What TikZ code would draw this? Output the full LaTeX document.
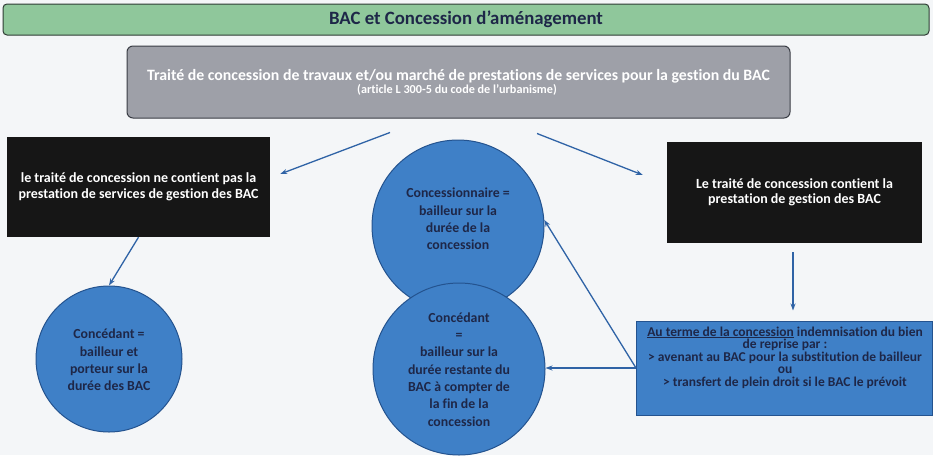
\documentclass[tikz,border=0pt]{standalone}
\usepackage{fontspec}
\setmainfont{Carlito}[Ligatures=NoCommon]
\usetikzlibrary{arrows.meta,calc}

\definecolor{paper}{HTML}{F4F6F8}
\definecolor{bargreen}{HTML}{8FC79B}
\definecolor{barline}{HTML}{2E3B34}
\definecolor{greyfill}{HTML}{9EA0A8}
\definecolor{greyline}{HTML}{3A3D45}
\definecolor{darkbox}{HTML}{161616}
\definecolor{bubble}{HTML}{3F80C7}
\definecolor{bubbleline}{HTML}{24538F}
\definecolor{navytext}{HTML}{1E2748}
\definecolor{arrowblue}{HTML}{2F63A6}

\tikzset{
  titlebar/.style={draw=barline, line width=1pt, fill=bargreen, rounded corners=4pt,
    minimum width=926pt, minimum height=31pt, inner sep=0pt,
    font=\fontsize{18.8}{20}\selectfont\bfseries, text=navytext},
  greybox/.style={draw=greyline, line width=1pt, fill=greyfill, rounded corners=6pt,
    minimum width=663pt, minimum height=72pt, inner sep=0pt},
  greytext/.style={inner sep=0pt, text=white},
  darkcard/.style={fill=darkbox, inner sep=0pt, align=center, text=white,
    font=\fontsize{14}{15.5}\selectfont\bfseries},
  bubblenode/.style={circle, draw=bubbleline, line width=1pt, fill=bubble, inner sep=0pt},
  bubbletext/.style={align=center, text=navytext, font=\fontsize{13.8}{17.3}\selectfont\bfseries},
  bluecard/.style={draw=bubbleline, line width=1pt, fill=bubble, inner sep=0pt},
  bluetext/.style={inner sep=0pt, align=center, text=navytext,
    font=\fontsize{13.5}{12.5}\selectfont\bfseries,
    execute at begin node={\lineskiplimit=-20pt}},
  link/.style={draw=arrowblue, line width=1.3pt, -{Stealth[length=7pt,width=5pt]}},
}

\begin{document}
\begin{tikzpicture}[x=1pt, y=-1pt]
  \useasboundingbox[fill=paper] (0,0) rectangle (933,455);

  % header and the contract box
  \node[titlebar] (title) at (466,19.5) {BAC et Concession d’aménagement};
  \node[greybox] (contract) at (458.5,82) {};
  \node[greytext, font=\fontsize{15.8}{16}\selectfont\bfseries] (contracttitle) at (458.5,76)
    {Traité de concession de travaux et/ou marché de prestations de services pour la gestion du BAC};
  \node[greytext, font=\fontsize{12.2}{12}\selectfont\bfseries] (contractnote) at (457,90)
    {(article L 300-5 du code de l’urbanisme)};

  % the two cases
  \node[darkcard, minimum width=263pt, minimum height=100pt] (without) at (138.5,187)
    {le traité de concession ne contient pas la\\prestation de services de gestion des BAC};
  \node[darkcard, minimum width=255pt, minimum height=101pt] (with) at (794.5,192.5)
    {Le traité de concession contient la\\prestation de gestion des BAC};

  % lessors
  \node[bubblenode, minimum size=146pt] (grantor) at (109,359) {};
  \node[bubbletext] (grantortext) at (109,360)
    {Concédant =\\bailleur et\\porteur sur la\\durée des BAC};

  \node[bubblenode, minimum size=172pt] (holder) at (458,226) {};
  \node[bubblenode, minimum size=172pt] (after) at (459,369) {};
  \node[bubbletext] (holdertext) at (458,219)
    {Concessionnaire =\\bailleur sur la\\durée de la\\concession};
  \node[bubbletext] (aftertext) at (459,369.5)
    {Concédant\\=\\bailleur sur la\\durée restante du\\BAC à compter de\\la fin de la\\concession};

  % end of the concession
  \node[bluecard, minimum width=296pt, minimum height=94pt] (term) at (784.5,368) {};
  \node[bluetext] (termtext) at (785,357.5)
    {\underline{Au terme de la concession} indemnisation du bien\\de reprise par :\\
     > avenant au BAC pour la substitution de bailleur\\ou\\
     > transfert de plein droit si le BAC le prévoit};

  % connectors
  \coordinate (leftstart) at ([shift={(-68.5,14)}]contract.south);
  \coordinate (leftend) at ([shift={(10,-13)}]without.east);
  \coordinate (rightstart) at ([shift={(78.5,15)}]contract.south);
  \coordinate (rightend) at ([shift={(-24,-17.5)}]with.west);
  \coordinate (downstart) at ([shift={(-1.5,9)}]with.south);
  \coordinate (downend) at ([shift={(8.5,-10)}]term.north);

  \draw[link] (leftstart) -- (leftend);
  \draw[link] (rightstart) -- (rightend);
  \draw[link] (without.south) -- (grantor.north);
  \draw[link] (downstart) -- (downend);
  \draw[link] (term.west) -- (term.west -| after.east);
  \draw[link] (term.west) -- (holder.4);
\end{tikzpicture}
\end{document}
